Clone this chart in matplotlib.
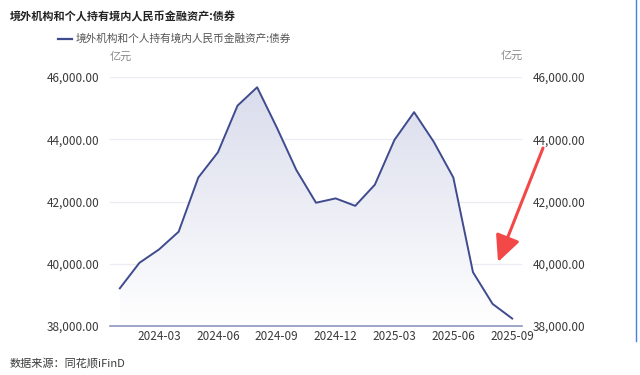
import matplotlib
matplotlib.use("Agg")
import matplotlib.pyplot as plt
import numpy as np
from matplotlib.colors import LinearSegmentedColormap
from matplotlib.patches import Polygon
from matplotlib.ticker import FuncFormatter

plt.rcParams['font.family'] = ['Noto Sans CJK SC', 'DejaVu Sans']

title = "境外机构和个人持有境内人民币金融资产:债券"
source = "数据来源：同花顺iFinD"
unit = "亿元"

# monthly, 2024-01 .. 2025-09
months = ["2024-01", "2024-02", "2024-03", "2024-04", "2024-05", "2024-06",
          "2024-07", "2024-08", "2024-09", "2024-10", "2024-11", "2024-12",
          "2025-01", "2025-02", "2025-03", "2025-04", "2025-05", "2025-06",
          "2025-07", "2025-08", "2025-09"]
bonds = [39210, 40030, 40460, 41030, 42770, 43580, 45080, 45670, 44380,
         43010, 41960, 42100, 41860, 42540, 43980, 44870, 43920, 42770,
         39730, 38710, 38240]
tick_months = ["2024-03", "2024-06", "2024-09", "2024-12", "2025-03", "2025-06", "2025-09"]
y_ticks = [38000, 40000, 42000, 44000, 46000]

line_color = "#3f4b8e"
text_color = "#3a3a3a"

fig = plt.figure(figsize=(6.4, 3.75), dpi=100)
ax = fig.add_axes([110 / 640, 49 / 375, 412 / 640, 249 / 375])

x = np.arange(len(months))
ax.set_xlim(-0.5, len(months) - 0.5)
ax.set_ylim(y_ticks[0], y_ticks[-1])

# gradient area under the line
cmap = LinearSegmentedColormap.from_list("fade", ["#ffffff", "#d8dbeb"])
grad = np.linspace(0, 1, 256).reshape(-1, 1)
img = ax.imshow(grad, cmap=cmap, aspect="auto", origin="lower",
                extent=[-0.5, len(months) - 0.5, y_ticks[0], y_ticks[-1]], zorder=1)
verts = [(x[0], y_ticks[0])] + list(zip(x, bonds)) + [(x[-1], y_ticks[0])]
poly = Polygon(verts, closed=True, facecolor="none", edgecolor="none")
ax.add_patch(poly)
img.set_clip_path(poly)

ax.plot(x, bonds, color=line_color, lw=1.4, zorder=3)

ax.set_yticks(y_ticks)
ax.yaxis.set_major_formatter(FuncFormatter(lambda v, p: f"{v:,.2f}"))
ax.grid(axis="y", color="#e9ebf5", lw=0.9, zorder=0)
ax.set_axisbelow(True)
ax.tick_params(axis="y", length=0, labelleft=True, labelright=True, pad=7.5,
               labelsize=8.5, labelcolor=text_color)

ax.set_xticks([months.index(m) for m in tick_months])
ax.set_xticklabels(tick_months)
ax.tick_params(axis="x", length=0, pad=3, labelsize=8.5, labelcolor=text_color)

for s in ["top", "left", "right"]:
    ax.spines[s].set_visible(False)
ax.spines["bottom"].set_color("#8d97c0")
ax.spines["bottom"].set_linewidth(1.2)

# texts
fig.text(10 / 640, 1 - 17 / 375, title, fontsize=8, fontweight="bold",
         color="#222222", va="center", ha="left")
fig.add_artist(plt.Line2D([58 / 640, 72 / 640], [1 - 39 / 375, 1 - 39 / 375],
                          color=line_color, lw=1.6))
fig.text(76 / 640, 1 - 39 / 375, title, fontsize=7.7, color="#555555",
         va="center", ha="left")
fig.text(110 / 640, 1 - 57 / 375, unit, fontsize=8, color="#888888", va="center", ha="left")
fig.text(523 / 640, 1 - 56 / 375, unit, fontsize=8, color="#888888", va="center", ha="right")
fig.text(10 / 640, 1 - 363 / 375, source, fontsize=8, color=text_color,
         va="center", ha="left")

# red arrow annotation and the blue frame edge at the right
fig.add_artist(plt.Line2D([0.9945, 0.9945], [0.09, 1.0], color="#4a7fe0", lw=1.0))
ax.annotate("", xy=(498, 375 - 262), xytext=(543, 375 - 148),
            xycoords="figure pixels", textcoords="figure pixels",
            arrowprops=dict(arrowstyle="-|>,head_length=0.8,head_width=0.38",
                            mutation_scale=20, color="#f24848", lw=2.2,
                            shrinkA=0, shrinkB=0))

fig.savefig("out.png", dpi=100)
